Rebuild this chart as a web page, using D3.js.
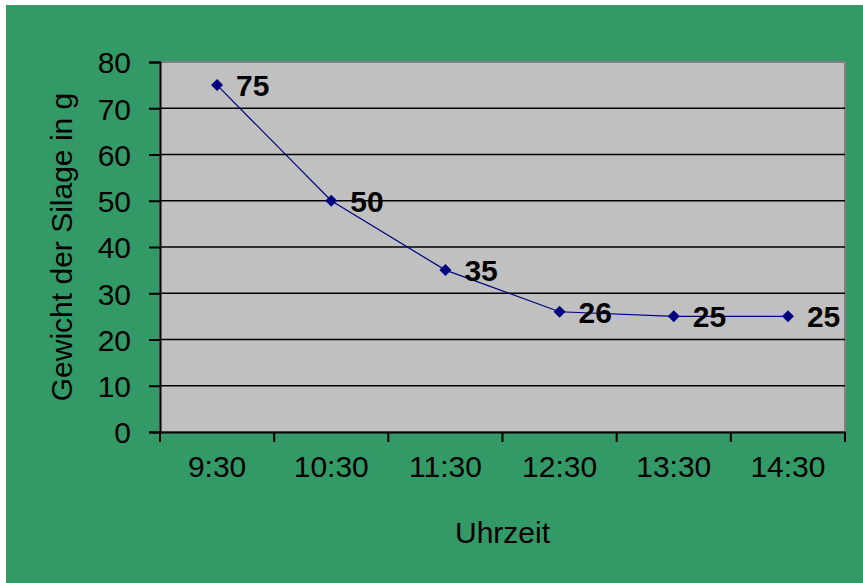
<!DOCTYPE html>
<html><head><meta charset="utf-8">
<script src="https://cdn.jsdelivr.net/npm/d3@7"></script>
<style>html,body{margin:0;padding:0;background:#fff;}svg{display:block;}</style>
</head><body>
<script>
const categories = ["9:30","10:30","11:30","12:30","13:30","14:30"];
const values = [75, 50, 35, 26, 25, 25];
const yTicks = [0,10,20,30,40,50,60,70,80];
const yTitle = "Gewicht der Silage in g";
const xTitle = "Uhrzeit";

const W = 863, H = 583;
const svg = d3.select("body").append("svg").attr("width", W).attr("height", H);
svg.append("rect").attr("x",6).attr("y",5).attr("width",W-6).attr("height",H-5).attr("fill","#339966");

const L = 160, R = 845, T = 62, B = 432;
const x = d3.scaleBand().domain(categories).range([L, R]);
const y = d3.scaleLinear().domain([0, 80]).range([B, T]);
const font = "'Liberation Sans', Arial, sans-serif";
const fs = 30;

svg.append("rect").attr("x",L).attr("y",T).attr("width",R-L).attr("height",B-T)
  .attr("fill","#c0c0c0").attr("stroke","#808080").attr("stroke-width",2);

// gridlines
svg.append("g").selectAll("line").data(yTicks.filter(d=>d>0 && d<80)).join("line")
  .attr("x1",L).attr("x2",R).attr("y1",d=>y(d)).attr("y2",d=>y(d))
  .attr("stroke","#000").attr("stroke-width",1.5);

// y axis
const ya = svg.append("g").attr("transform",`translate(${L},0)`)
  .call(d3.axisLeft(y).tickValues(yTicks).tickSize(11).tickPadding(18).tickFormat(d3.format("d")));
ya.select(".domain").attr("stroke","#000").attr("stroke-width",2);
ya.selectAll(".tick line").attr("stroke","#000").attr("stroke-width",2);
ya.selectAll("text").attr("font-family",font).attr("font-size",fs).attr("fill","#000").attr("dy","0.36em");

// x axis
const xa = svg.append("g").attr("transform",`translate(0,${B})`)
  .call(d3.axisBottom(x).tickSize(0).tickPadding(24));
xa.select(".domain").attr("stroke","#000").attr("stroke-width",2);
xa.selectAll("text").attr("font-family",font).attr("font-size",fs).attr("fill","#000").attr("dy","0.71em");
// category boundary ticks
const bounds = categories.map(c=>x(c)).concat([R]);
xa.append("g").selectAll("line").data(bounds).join("line")
  .attr("x1",d=>d).attr("x2",d=>d).attr("y1",0).attr("y2",10)
  .attr("stroke","#000").attr("stroke-width",2);

// line
const cx = c => x(c) + x.bandwidth()/2;
const data = categories.map((c,i)=>({c, v: values[i]}));
svg.append("path").datum(data)
  .attr("d", d3.line().x(d=>cx(d.c)).y(d=>y(d.v)))
  .attr("fill","none").attr("stroke","#000080").attr("stroke-width",1.2);

svg.append("g").selectAll("path").data(data).join("path")
  .attr("d", d3.symbol(d3.symbolSquare, 72)())
  .attr("transform", d=>`translate(${cx(d.c)},${y(d.v)}) rotate(45)`)
  .attr("fill","#000080");

svg.append("g").selectAll("text").data(data).join("text")
  .attr("x", d=>cx(d.c)+19).attr("y", d=>y(d.v)).attr("dy","0.36em")
  .attr("font-family",font).attr("font-size",fs).attr("font-weight","bold").attr("fill","#000")
  .text(d=>d.v);

svg.append("text").attr("x",(L+R)/2).attr("y",543)
  .attr("text-anchor","middle").attr("font-family",font).attr("font-size",fs).attr("fill","#000")
  .text(xTitle);

svg.append("text").attr("transform",`translate(72,${(T+B)/2}) rotate(-90)`)
  .attr("text-anchor","middle").attr("font-family",font).attr("font-size",fs).attr("fill","#000")
  .text(yTitle);
</script>
</body></html>
